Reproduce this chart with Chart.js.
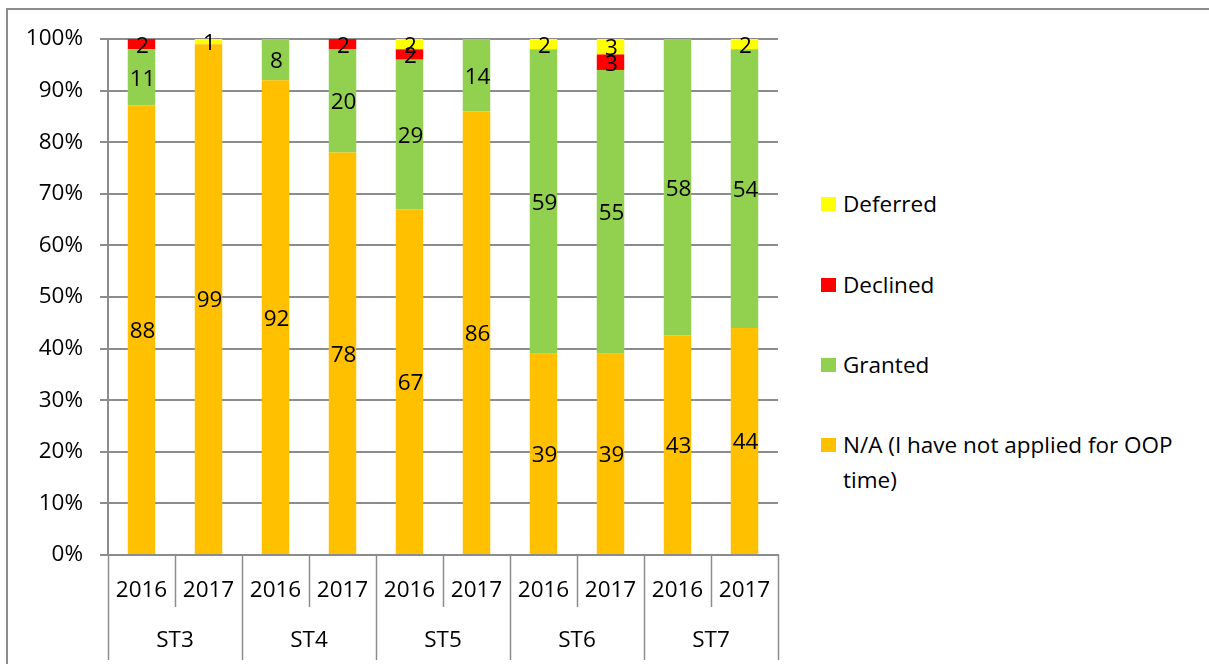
<!DOCTYPE html>
<html>
<head>
<meta charset="utf-8">
<script src="https://cdn.jsdelivr.net/npm/chart.js@4/dist/chart.umd.min.js"></script>
<style>
  html, body { margin: 0; padding: 0; background: #fff; }
  body { width: 1209px; height: 664px; position: relative; overflow: hidden; font-family: "Open Sans", sans-serif; }
  #frame { position: absolute; left: 6px; top: 8px; width: 1400px; height: 800px; border-top: 2px solid #8c8c8c; border-left: 2px solid #8c8c8c; }
  #wrap { position: absolute; left: 0; top: 0; width: 800px; height: 664px; }
  #legend { position: absolute; left: 821px; top: 0; }
  .item { position: absolute; left: 0; width: 388px; font-size: 22.5px; line-height: 35px; color: #000; white-space: nowrap; }
  .box { position: absolute; left: 0; width: 15px; height: 14px; }
  .txt { position: absolute; left: 22px; width: 366px; white-space: normal; }
</style>
</head>
<body>
<div id="frame"></div>
<div id="wrap"><canvas id="c" width="800" height="664"></canvas></div>
<div id="legend"></div>
<script>
const groups = ['ST3', 'ST4', 'ST5', 'ST6', 'ST7'];
const years = ['2016', '2017', '2016', '2017', '2016', '2017', '2016', '2017', '2016', '2017'];
const naValues       = [88, 99, 92, 78, 67, 86, 39, 39, 43, 44];
const grantedValues  = [11,  0,  8, 20, 29, 14, 59, 55, 58, 54];
const declinedValues = [ 2,  0,  0,  2,  2,  0,  0,  3,  0,  0];
const deferredValues = [ 0,  1,  0,  0,  2,  0,  2,  3,  0,  2];
const seriesNames = ['N/A (I have not applied for OOP time)', 'Granted', 'Declined', 'Deferred'];
const seriesColors = ['#FFC000', '#92D050', '#FF0000', '#FFFF00'];
const yTickValues = [0, 10, 20, 30, 40, 50, 60, 70, 80, 90, 100];

const FONT = '"Open Sans", sans-serif';
const FS = 22.5;
const rawSeries = [naValues, grantedValues, declinedValues, deferredValues];
const totals = years.map((_, i) => rawSeries.reduce((s, a) => s + a[i], 0));

const datasets = rawSeries.map((arr, k) => ({
  label: seriesNames[k],
  data: arr.map((v, i) => v / totals[i] * 100),
  raw: arr,
  backgroundColor: seriesColors[k],
  borderWidth: 0,
  barPercentage: 0.41,
  categoryPercentage: 1.0
}));

const valueLabels = {
  id: 'valueLabels',
  afterDatasetsDraw(chart) {
    const ctx = chart.ctx;
    ctx.save();
    ctx.font = FS + 'px ' + FONT;
    ctx.fillStyle = '#000';
    ctx.textAlign = 'center';
    ctx.textBaseline = 'middle';
    chart.data.datasets.forEach((ds, di) => {
      const meta = chart.getDatasetMeta(di);
      meta.data.forEach((el, j) => {
        const v = ds.raw[j];
        if (v > 0) ctx.fillText(String(v), el.x + 1, (el.y + el.base) / 2 + 2);
      });
    });
    ctx.restore();
  }
};

const groupAxis = {
  id: 'groupAxis',
  afterDraw(chart) {
    const ctx = chart.ctx;
    const xs = chart.scales.x;
    const n = years.length;
    const w = (xs.right - xs.left) / n;
    const top = xs.top;
    ctx.save();
    ctx.strokeStyle = '#8c8c8c';
    ctx.lineWidth = 1.5;
    for (let i = 0; i <= n; i++) {
      const x = Math.round(xs.left + i * w) + 0.5;
      ctx.beginPath();
      ctx.moveTo(x, top);
      ctx.lineTo(x, i % 2 === 0 ? 660 : 607);
      ctx.stroke();
    }
    ctx.font = FS + 'px ' + FONT;
    ctx.fillStyle = '#000';
    ctx.textAlign = 'center';
    ctx.textBaseline = 'middle';
    groups.forEach((g, gi) => {
      const cx = (xs.getPixelForValue(gi * 2) + xs.getPixelForValue(gi * 2 + 1)) / 2;
      ctx.fillText(g, cx, 641);
    });
    ctx.restore();
  }
};

const chart = new Chart(document.getElementById('c'), {
  type: 'bar',
  data: { labels: years, datasets },
  options: {
    responsive: false,
    animation: false,
    layout: { padding: { left: 0, right: 22, top: 39, bottom: 0 } },
    plugins: { legend: { display: false }, tooltip: { enabled: false } },
    scales: {
      x: {
        stacked: true,
        grid: { display: false, drawTicks: false },
        border: { display: true, color: '#8c8c8c', width: 2 },
        ticks: { font: { family: FONT, size: FS }, color: '#000', padding: 22, maxRotation: 0, autoSkip: false },
        afterFit(scale) { scale.height = 664 - 555; }
      },
      y: {
        stacked: true,
        min: 0, max: 100,
        afterBuildTicks(scale) { scale.ticks = yTickValues.map(v => ({ value: v })); },
        grid: { color: '#8c8c8c', lineWidth: 2, tickLength: 8, drawTicks: true },
        border: { display: true, color: '#8c8c8c', width: 2 },
        ticks: { font: { family: FONT, size: FS }, color: '#000', padding: 17, callback: v => v + '%' },
        afterFit(scale) { scale.width = 108; }
      }
    }
  },
  plugins: [valueLabels, groupAxis]
});

// HTML legend (reverse order, like the reference)
const legendTops = [203, 284, 364, 444];
const leg = document.getElementById('legend');
chart.data.datasets.slice().reverse().forEach((ds, i) => {
  const item = document.createElement('div');
  item.className = 'item';
  item.style.top = (legendTops[i] - 17.5) + 'px';
  const box = document.createElement('div');
  box.className = 'box';
  box.style.background = ds.backgroundColor;
  box.style.top = '11px';
  const t = document.createElement('div');
  t.className = 'txt';
  t.textContent = ds.label;
  item.appendChild(box);
  item.appendChild(t);
  leg.appendChild(item);
});
</script>
</body>
</html>
